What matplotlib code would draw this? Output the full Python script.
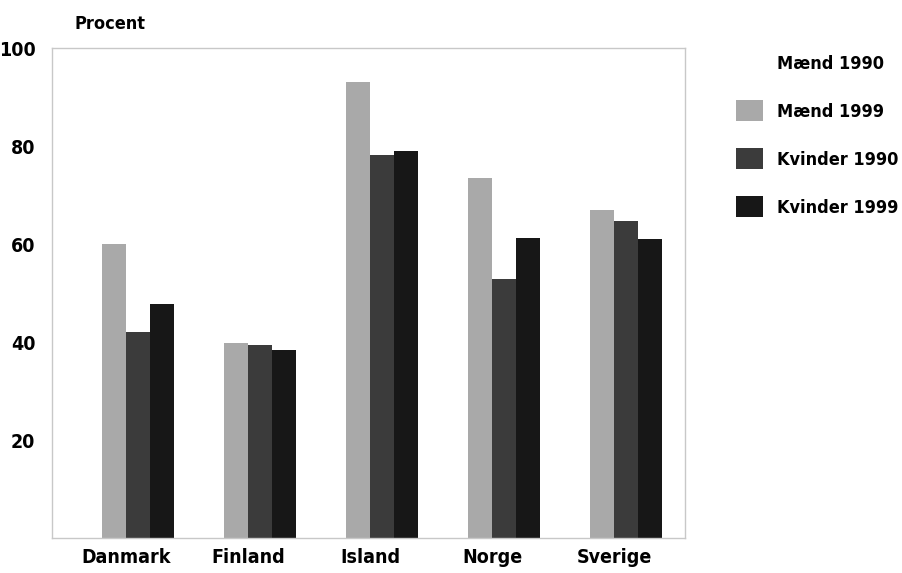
import numpy as np
import matplotlib.pyplot as plt
from matplotlib.patches import Patch
from matplotlib import font_manager

# Data
countries = ['Danmark', 'Finland', 'Island', 'Norge', 'Sverige']
series = ['Mænd 1990', 'Mænd 1999', 'Kvinder 1990', 'Kvinder 1999']
maend_1990 = [0, 0, 0, 0, 0]  # drawn in white in the original
maend_1999 = [60, 39.7, 93, 73.4, 67]
kvinder_1990 = [42, 39.4, 78.2, 52.9, 64.7]
kvinder_1999 = [47.8, 38.4, 79, 61.2, 61]
values = [maend_1990, maend_1999, kvinder_1990, kvinder_1999]
colors = ['white', '#a9a9a9', '#3b3b3b', '#171717']

condensed = [f for f in font_manager.fontManager.ttflist
             if f.name == 'DejaVu Sans' and f.stretch == 'condensed']
plt.rcParams['font.family'] = ['DejaVu Sans']
plt.rcParams['font.weight'] = 'bold'
if condensed:
    plt.rcParams['font.stretch'] = 'condensed'
fs = 14 if condensed else 12

fig = plt.figure(figsize=(9.02, 5.73), dpi=100)
ax = fig.add_axes([52 / 902, 35 / 573, 633 / 902, 490 / 573])

x = np.arange(len(countries))
w = 0.197
for i, (vals, c) in enumerate(zip(values, colors)):
    ax.bar(x + (i - 1.5) * w, vals, width=w, color=c, linewidth=0)

ax.set_xlim(-0.607, 4.58)
ax.set_ylim(0, 100)
ax.set_yticks([20, 40, 60, 80, 100])
ax.set_xticks(x)
ax.set_xticklabels(countries, fontsize=fs)
ax.tick_params(axis='y', labelsize=fs, length=0, pad=12)
ax.tick_params(axis='x', length=0, pad=7)
for s in ax.spines.values():
    s.set_color('#c8c8c8')
    s.set_linewidth(1)

fig.text(75 / 902, 1 - 24 / 573, 'Procent', fontsize=fs - 1, va='center', ha='left')

handles = [Patch(facecolor=c, edgecolor='none') for c in colors]
fig.legend(handles, series, loc='upper left', bbox_to_anchor=(736 / 902, 1 - 52 / 573),
           frameon=False, fontsize=fs - 1, labelspacing=1.47, handlelength=1.5,
           handleheight=1.45, handletextpad=0.75, borderaxespad=0, borderpad=0)

fig.savefig('out.png', dpi=100)
